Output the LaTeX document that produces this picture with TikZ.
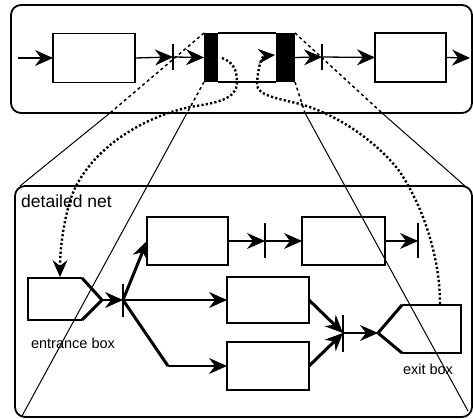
\documentclass[tikz,border=0pt]{standalone}
\usepackage{fontspec}
\setmainfont{Liberation Sans}
\usetikzlibrary{arrows.meta}
\begin{document}
\begin{tikzpicture}[x=1pt,y=-1pt,
  box/.style={draw, line width=1.8pt, inner sep=0pt, outer sep=0pt, rectangle},
  blk/.style={fill, draw=none, inner sep=0pt, outer sep=0pt, rectangle},
  trn/.style={inner sep=0pt, outer sep=0pt, minimum width=0pt, draw=none},
  bar/.style={line width=1.8pt},
  arr/.style={line width=1.3pt, -{Stealth[length=18pt,width=16pt,inset=6pt,line width=1pt]}},
  thk/.style={line width=3pt},
  thkarr/.style={line width=3pt, -{Stealth[length=18pt,width=16pt,inset=6pt,line width=1pt]}},
  panel/.style={draw, line width=1.8pt, rounded corners=10pt},
  proj/.style={line width=1pt},
  dsh/.style={line width=1.5pt, dash pattern=on 3pt off 3pt},
  dotc/.style={line width=2.4pt, dash pattern=on 2.2pt off 2.2pt},
  lbl/.style={font=\fontsize{14.5}{17}\selectfont, inner sep=0pt}
]
\useasboundingbox (0,0) rectangle (473,419);

% panels
\draw[panel] (11,5) rectangle (472,113);
\draw[panel] (15,186) rectangle (472,417);

% ---------- top panel ----------
\coordinate (s0) at (18,58);
\coordinate (e0) at (470,58);
\node[box, minimum width=82pt, minimum height=49pt] (A) at (94,58) {};
\node[trn, minimum height=26pt] (tl) at (173,57) {};
\node[blk, minimum width=14pt, minimum height=49pt] (LB) at (211,57.5) {};
\node[blk, minimum width=19pt, minimum height=49pt] (RB) at (285.5,57.5) {};
\node[trn, minimum height=26pt] (tr) at (322,57) {};
\node[box, minimum width=71pt, minimum height=49pt] (B) at (410.5,57.5) {};

% projection (dashed part + solid part)
\coordinate (p1) at (110,113);
\coordinate (p2) at (187,113);
\coordinate (p3) at (305,113);
\coordinate (p4) at (382,113);
\coordinate (q1) at (20,186);
\coordinate (q2) at (22,416);
\coordinate (q3) at (468,411);
\coordinate (q4) at (465,186);
\draw[dsh] (LB.north west) -- (p1);
\draw[dsh] (LB.south west) -- (p2);
\draw[dsh] (RB.south east) -- (p3);
\draw[dsh] (RB.north east) -- (p4);
\draw[proj] (p1) -- (q1);
\draw[proj] (p2) -- (q2);
\draw[proj] (p3) -- (q3);
\draw[proj] (p4) -- (q4);

\draw[line width=2pt] (LB.north east) -- (RB.north west);
\draw[line width=1.6pt] (LB.south east) -- (RB.south west);

\draw[bar] (tl.north) -- (tl.south);
\draw[bar] (tr.north) -- (tr.south);
\draw[arr] (s0) -- (A.west);
\draw[arr] (A.east) -- (tl.west);
\draw[arr] (tl.east) -- (LB.west);
\draw[arr] (RB.east) -- (tr.west);
\draw[arr] (tr.east) -- (B.west);
\draw[arr] (B.east) -- (e0);

% ---------- lower panel ----------
\node[anchor=west, inner sep=0pt, font=\fontsize{17.5}{20}\selectfont] (dn) at (21,201) {detailed net};

\coordinate (en1) at (28,278);
\coordinate (en2) at (82,278);
\coordinate (enp) at (102,300);
\coordinate (en3) at (82,320);
\coordinate (en4) at (28,320);
\draw[line width=1.8pt] (en2) -- (en1) -- (en4) -- (en3);
\draw[thk] (en2) -- (enp) -- (en3);
\node[lbl] (el) at (73,343) {entrance box};

\node[trn, minimum height=33pt] (t1) at (123,300) {};
\node[box, minimum width=81pt, minimum height=48pt] (C1) at (187.5,241) {};
\node[box, minimum width=82pt, minimum height=46pt] (C2) at (268,300) {};
\node[box, minimum width=82pt, minimum height=48pt] (C3) at (268,366) {};
\node[trn, minimum height=35pt] (t3) at (265,241) {};
\node[box, minimum width=83pt, minimum height=48pt] (C4) at (343.5,241) {};
\node[trn, minimum height=35pt] (t4) at (418,241) {};
\node[trn, minimum height=37pt] (t2) at (343,333) {};
\coordinate (k1) at (168,366);

\coordinate (exp) at (378,333);
\coordinate (ex1) at (402,305);
\coordinate (ex2) at (461,305);
\coordinate (ex3) at (461,353);
\coordinate (ex4) at (402,353);
\draw[line width=1.8pt] (ex1) -- (ex2) -- (ex3) -- (ex4);
\draw[thk] (ex1) -- (exp) -- (ex4);
\node[lbl] (xl) at (428,369) {exit box};

\foreach \t in {t1,t2,t3,t4} \draw[bar] (\t.north) -- (\t.south);

\draw[arr] (enp) -- (t1.west);
\draw[thkarr] (t1.east) -- (C1.west);
\draw[arr] (t1.east) -- (C2.west);
\draw[thk] (t1.east) -- (k1);
\draw[arr] (k1) -- (C3.west);
\draw[arr] (C1.east) -- (t3.west);
\draw[arr] (t3.east) -- (C4.west);
\draw[arr] (C4.east) -- (t4.west);
\draw[thkarr] (C2.east) -- (t2.west);
\draw[thkarr] (C3.east) -- (t2.west);
\draw[arr] (t2.east) -- (exp);

% ---------- dotted correspondence curves ----------
\coordinate (lc0) at (222,58);
\coordinate (lc1) at (60,277);
\draw[dotc, -{Stealth[length=17pt,width=15pt,inset=6pt,line width=1pt]}]
  (lc0) .. controls (233,62) and (237,70) .. (237,82)
        .. controls (237,100) and (215,103) .. (190,107)
        .. controls (140,118) and (90,150) .. (72,195)
        .. controls (65,215) and (60,245) .. (lc1);

\coordinate (rc0) at (440,304);
\coordinate (rc1) at (275,55);
\draw[dotc, -{Stealth[length=17pt,width=15pt,inset=6pt,line width=1pt]}]
  (rc0) .. controls (440,260) and (425,210) .. (400,172)
        .. controls (380,145) and (340,115) .. (300,104)
        .. controls (275,98) and (257,95) .. (257,84)
        .. controls (258,66) and (262,56) .. (rc1);
\end{tikzpicture}
\end{document}
